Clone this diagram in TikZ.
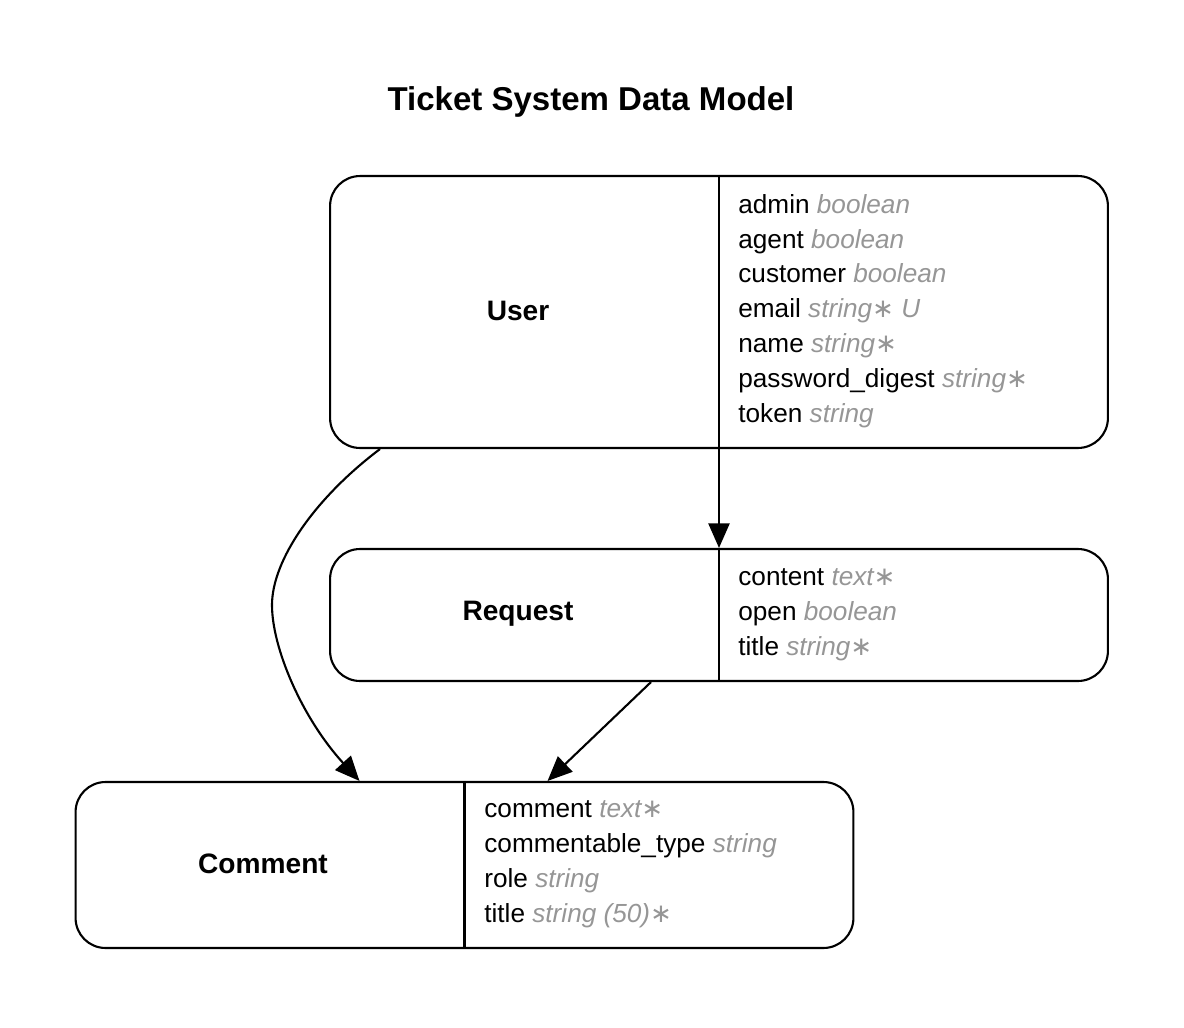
\documentclass[tikz,border=0pt]{standalone}
\usepackage{fontspec}
\setmainfont{Liberation Sans}
\newfontfamily\symfont{DejaVu Sans}
\usetikzlibrary{arrows.meta,calc}
\definecolor{typegray}{RGB}{150,150,150}
\newcommand{\attr}[2]{#1 {\color{typegray}\itshape #2}}
\newcommand{\reqmark}{{\symfont\itshape ∗}}

\begin{document}
\begin{tikzpicture}[x=0.02cm,y=-0.02cm,
    entity/.style={draw,line width=1.2pt,rounded corners=0.6cm,minimum width=15.56cm,inner sep=0pt},
    ename/.style={font=\fontsize{16}{19}\selectfont\bfseries},
    attrs/.style={anchor=west,align=left,inner sep=0pt,font=\fontsize{14.9}{19.85}\selectfont},
    rel/.style={line width=1.2pt,-{Triangle[length=14pt,width=12pt]}}]
    \useasboundingbox (0,0) rectangle (1184,1028);
    % title
    \node[font=\fontsize{18.8}{22}\selectfont\bfseries] (title) at (591,102) {Ticket System Data Model};
    % User
    \node[entity,minimum height=5.44cm] (user) at (719,312) {};
    \draw[line width=1.2pt] (user.north) -- (user.south);
    \node[ename] (username) at (518,311) {User};
    \node[attrs] (userattrs) at (738,311) {\attr{admin}{boolean}\\
        \attr{agent}{boolean}\\
        \attr{customer}{boolean}\\
        \attr{email}{string\reqmark\ U}\\
        \attr{name}{string\reqmark}\\
        \attr{password\_digest}{string\reqmark}\\
        \attr{token}{string}};
    % Request
    \node[entity,minimum height=2.64cm] (request) at (719,615) {};
    \draw[line width=1.2pt] (request.north) -- (request.south);
    \node[ename] (requestname) at (518,614) {Request};
    \node[attrs] (requestattrs) at (738,615) {\attr{content}{text\reqmark}\\
        \attr{open}{boolean}\\
        \attr{title}{string\reqmark}};
    % Comment
    \node[entity,minimum height=3.32cm] (comment) at (464.5,865) {};
    \draw[line width=1.2pt] (comment.north) -- (comment.south);
    \node[ename] (commentname) at (263,864) {Comment};
    \node[attrs] (commentattrs) at (484,864) {\attr{comment}{text\reqmark}\\
        \attr{commentable\_type}{string}\\
        \attr{role}{string}\\
        \attr{title}{string (50)\reqmark}};
    % relations
    \coordinate (ustart) at ($(user.south west)+(51,0)$);
    \coordinate (ubend) at (272,605);
    \coordinate (cleft) at ($(comment.north west)+(285,0)$);
    \coordinate (rstart) at ($(request.south west)+(322,0)$);
    \coordinate (cright) at ($(comment.north west)+(473,0)$);
    \draw[rel] (user.south) -- (request.north);
    \draw[rel] (ustart) .. controls (315,498) and (272,560) .. (ubend)
        .. controls (272,648) and (302,718) .. (cleft);
    \draw[rel] (rstart) -- (cright);
\end{tikzpicture}
\end{document}
